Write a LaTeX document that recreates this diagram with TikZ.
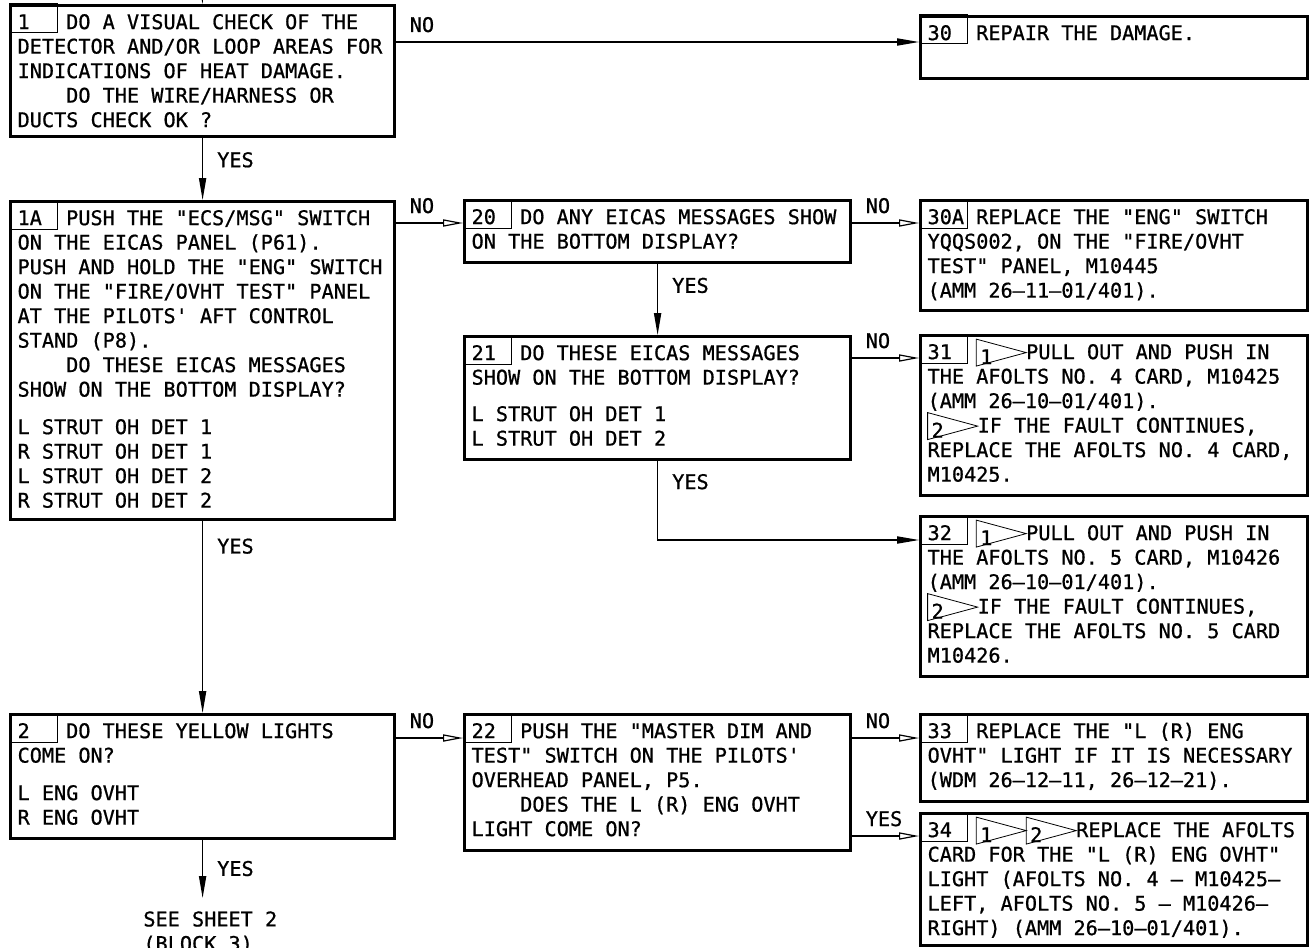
\documentclass[tikz,border=0pt]{standalone}
\usepackage{fontspec}
\setmonofont{DejaVu Sans Mono}[FakeBold=0.8]
\usetikzlibrary{arrows.meta}

\newcommand{\nr}[1]{\makebox[24.3pt][l]{#1}}
\newcommand{\ind}{\leavevmode\hspace*{24.3pt}}
\newcommand{\flg}[1]{\leavevmode\rlap{\hspace{2pt}\raisebox{-2.5pt}{#1}}\tikz[baseline=0pt]{\useasboundingbox (0pt,0pt) rectangle (25pt,1pt); \draw[line width=0.4pt] (0pt,-3.5pt) -- (0pt,10pt) -- (25pt,3.25pt) -- cycle;}}

\tikzset{
  txt/.style={font=\ttfamily\fontsize{10.1}{12.25}\selectfont\frenchspacing},
  blk/.style={txt, draw, line width=1.6pt, anchor=north west, inner xsep=3.5pt, inner ysep=4pt, text height=7.75pt, align=flush left},
  lcol/.style={text width=185pt},
  mcol/.style={text width=186pt},
  rcol/.style={text width=186.5pt},
  cell/.style={line width=0.5pt},
  arrF/.style={-{Triangle[length=11pt,width=3.6pt]}, line width=0.6pt},
  arrO/.style={-{Triangle[open,length=10pt,width=3.6pt]}, line width=0.6pt},
  lbl/.style={txt, inner sep=0pt},
  no/.style={lbl, pos=0, anchor=base west, xshift=6.5pt, yshift=5pt},
  yes/.style={lbl, anchor=west, xshift=7pt}
}

\begin{document}
\begin{tikzpicture}[x=0.5pt,y=-0.5pt]
\useasboundingbox (0,0) rectangle (1310,947);
\clip (0,0) rectangle (1310,947);

% left column
\node[blk, lcol, text depth=49.75pt] (b1) at (9,4) {\nr{1}DO A VISUAL CHECK OF THE\\
DETECTOR AND/OR LOOP AREAS FOR\\
INDICATIONS OF HEAT DAMAGE.\\
\ind DO THE WIRE/HARNESS OR\\
DUCTS CHECK OK ?};
\node[blk, lcol, text depth=143.25pt] (b1A) at (9,200) {\nr{1A}PUSH THE "ECS/MSG" SWITCH\\
ON THE EICAS PANEL (P61).\\
PUSH AND HOLD THE "ENG" SWITCH\\
ON THE "FIRE/OVHT TEST" PANEL\\
AT THE PILOTS' AFT CONTROL\\
STAND (P8).\\
\ind DO THESE EICAS MESSAGES\\
SHOW ON THE BOTTOM DISPLAY?\\[6.5pt]
L STRUT OH DET 1\\
R STRUT OH DET 1\\
L STRUT OH DET 2\\
R STRUT OH DET 2};
\node[blk, lcol, text depth=46.25pt] (b2) at (9,713) {\nr{2}DO THESE YELLOW LIGHTS\\
COME ON?\\[6.5pt]
L ENG OVHT\\
R ENG OVHT};
\node[lbl, anchor=north west, align=left] (sheet) at (143,911) {SEE SHEET 2\\(BLOCK 3)};

% middle column
\node[blk, mcol, text depth=15.25pt] (b20) at (463,199) {\nr{20}DO ANY EICAS MESSAGES SHOW\\
ON THE BOTTOM DISPLAY?};
\node[blk, mcol, text depth=45.75pt] (b21) at (463,335) {\nr{21}DO THESE EICAS MESSAGES\\
SHOW ON THE BOTTOM DISPLAY?\\[6pt]
L STRUT OH DET 1\\
L STRUT OH DET 2};
\node[blk, mcol, text depth=52.25pt] (b22) at (463,713) {\nr{22}PUSH THE "MASTER DIM AND\\
TEST" SWITCH ON THE PILOTS'\\
OVERHEAD PANEL, P5.\\
\ind DOES THE L (R) ENG OVHT\\
LIGHT COME ON?};

% right column
\node[blk, rcol, text depth=15.25pt] (b30) at (919,15) {\nr{30}REPAIR THE DAMAGE.};
\node[blk, rcol, text depth=39.25pt] (b30A) at (919,199) {\nr{30A}REPLACE THE "ENG" SWITCH\\
YQQS002, ON THE "FIRE/OVHT\\
TEST" PANEL, M10445\\
(AMM 26–11–01/401).};
\node[blk, rcol, text depth=64.25pt] (b31) at (919,334) {\nr{31}\flg{1}PULL OUT AND PUSH IN\\
THE AFOLTS NO. 4 CARD, M10425\\
(AMM 26–10–01/401).\\
\flg{2}IF THE FAULT CONTINUES,\\
REPLACE THE AFOLTS NO. 4 CARD,\\
M10425.};
\node[blk, rcol, text depth=64.25pt] (b32) at (919,515) {\nr{32}\flg{1}PULL OUT AND PUSH IN\\
THE AFOLTS NO. 5 CARD, M10426\\
(AMM 26–10–01/401).\\
\flg{2}IF THE FAULT CONTINUES,\\
REPLACE THE AFOLTS NO. 5 CARD\\
M10426.};
\node[blk, rcol, text depth=27.75pt] (b33) at (919,713) {\nr{33}REPLACE THE "L (R) ENG\\
OVHT" LIGHT IF IT IS NECESSARY\\
(WDM 26–12–11, 26–12–21).};
\node[blk, rcol, text depth=50.25pt] (b34) at (919,812) {\nr{34}\flg{1}\flg{2}REPLACE THE AFOLTS\\
CARD FOR THE "L (R) ENG OVHT"\\
LIGHT (AFOLTS NO. 4 – M10425–\\
LEFT, AFOLTS NO. 5 – M10426–\\
RIGHT) (AMM 26–10–01/401).};

% number cells
\foreach \b in {b1,b1A,b2,b20,b21,b22,b30,b30A,b31,b32,b33,b34}
  \draw[cell] (\b.north west) rectangle ++(24pt,-14.5pt);

% entry points
\coordinate (in30) at ([yshift=-13.5pt]b30.north west);
\coordinate (in20) at ([yshift=-12pt]b20.north west);
\coordinate (in30A) at ([yshift=-12pt]b30A.north west);
\coordinate (in31) at ([yshift=-12pt]b31.north west);
\coordinate (in32) at ([yshift=-12.5pt]b32.north west);
\coordinate (in22) at ([yshift=-12.5pt]b22.north west);
\coordinate (in33) at ([yshift=-12.5pt]b33.north west);
\coordinate (in34) at ([yshift=-12pt]b34.north west);
\coordinate (from) at (200,-40);

% connectors
\draw[arrF] (from) -- (b1.north);
\draw[arrF] (b1.east |- in30) -- node[no] {NO} (in30);
\draw[arrF] (b1.south) -- node[yes, pos=0.35] {YES} (b1A.north);
\draw[arrO] (b1A.east |- in20) -- node[no] {NO} (in20);
\draw[arrO] (b20.east |- in30A) -- node[no] {NO} (in30A);
\draw[arrF] (b20.south) -- node[yes, pos=0.3] {YES} (b21.north);
\draw[arrO] (b21.east |- in31) -- node[no] {NO} (in31);
\draw[arrF] (b21.south) |- node[yes, pos=0.13] {YES} (in32);
\draw[arrF] (b1A.south) -- node[yes, pos=0.13] {YES} (b2.north);
\draw[arrO] (b2.east |- in22) -- node[no] {NO} (in22);
\draw[arrF, shorten >=6.5pt] (b2.south) -- node[yes, pos=0.4] {YES} (b2.south |- sheet.north);
\draw[arrO] (b22.east |- in33) -- node[no] {NO} (in33);
\draw[arrO] (b22.east |- in34) -- node[no] {YES} (in34);

\end{tikzpicture}
\end{document}
